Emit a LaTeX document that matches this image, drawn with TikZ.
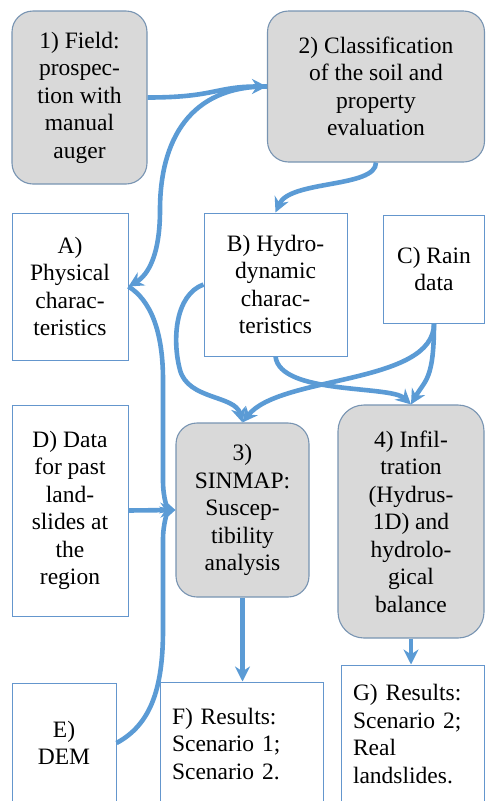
\documentclass[tikz,border=0pt]{standalone}
\usepackage{fontspec}
\setmainfont{Liberation Serif}
\usetikzlibrary{arrows.meta}
\definecolor{stagegray}{RGB}{217,217,217}
\definecolor{stageline}{RGB}{120,148,178}
\definecolor{boxline}{RGB}{100,150,205}
\definecolor{flowblue}{RGB}{91,155,213}

\begin{document}
\begin{tikzpicture}[x=1pt,y=-1pt,
  stage/.style={draw=stageline, fill=stagegray, line width=1.1pt, rounded corners=21pt, align=center, inner sep=0pt, font=\rmfamily\fontsize{23.5}{27.5}\selectfont},
  databox/.style={draw=boxline, fill=white, line width=1pt, align=center, inner sep=0pt, font=\rmfamily\fontsize{23.5}{27.5}\selectfont},
  resultbox/.style={databox, align=left, inner xsep=12pt},
  flow/.style={draw=flowblue, line width=4.6pt, -{Stealth[length=15pt,width=15pt]}}]
  \clip (0,0) rectangle (485,801);
  \node[stage, minimum width=135pt, minimum height=173pt] (field) at (79.5,97.5) {1) Field:\\prospec-\\tion with\\manual\\auger};
  \node[stage, minimum width=217pt, minimum height=151pt] (class) at (376,86.5) {2) Classification\\of the soil and\\property\\evaluation};
  \node[databox, minimum width=116pt, minimum height=147pt] (phys) at (70,286.5) {A)\\Physical\\charac-\\teristics};
  \node[databox, minimum width=143pt, minimum height=143pt] (hydro) at (275.5,284.5) {B) Hydro-\\dynamic\\charac-\\teristics};
  \node[databox, minimum width=101pt, minimum height=108pt] (rain) at (434,269) {C) Rain\\data};
  \node[databox, minimum width=116pt, minimum height=211pt] (past) at (70,510.5) {D) Data\\for past\\land-\\slides at\\the\\region};
  \node[stage, minimum width=133pt, minimum height=174pt] (sinmap) at (242.5,510) {3)\\SINMAP:\\Suscep-\\tibility\\analysis};
  \node[stage, minimum width=146pt, minimum height=233pt, rounded corners=26pt] (infil) at (411,521.5) {4) Infil-\\tration\\(Hydrus-\\1D) and\\hydrolo-\\gical\\balance};
  \node[databox, minimum width=104pt, minimum height=120pt] (dem) at (64,743) {E)\\DEM};
  \node[resultbox, text width=139pt, minimum height=124pt] (resf) at (241.5,744) {F) Results:\\Scenario 1;\\Scenario 2.};
  \node[resultbox, text width=119pt, minimum height=138pt] (resg) at (412.5,734) {G) Results:\\Scenario 2;\\Real\\landslides.};

  \draw[flow] (field.east) .. controls (215,97.5) and (215,86.5) .. (class.west);
  \draw[flow] (class.west) .. controls (190,86) and (160,140) .. (160,210) .. controls (160,255) and (148,275) .. (phys.east);
  \draw[flow] (phys.east) .. controls (150,300) and (163,330) .. (163,380) -- (163,480) .. controls (163,500) and (168,508) .. (sinmap.west);
  \draw[flow] (past.east) -- (sinmap.west);
  \draw[flow] (dem.east) .. controls (150,725) and (163,690) .. (163,630) -- (163,540) .. controls (163,522) and (168,512) .. (sinmap.west);
  \draw[flow] (class.south) .. controls (376,188) and (290,180) .. (hydro.north);
  \draw[flow] (hydro.west) .. controls (175,295) and (172,340) .. (180,370) .. controls (188,400) and (235,395) .. (sinmap.north);
  \draw[flow] (hydro.south) .. controls (280,395) and (390,385) .. (infil.north);
  \draw[flow] (rain.south) .. controls (434,385) and (280,375) .. (sinmap.north);
  \draw[flow] (rain.south) .. controls (434,380) and (425,380) .. (infil.north);
  \draw[flow] (sinmap.south) -- (sinmap.south |- resf.north);
  \draw[flow] (infil.south) -- (infil.south |- resg.north);
\end{tikzpicture}
\end{document}
